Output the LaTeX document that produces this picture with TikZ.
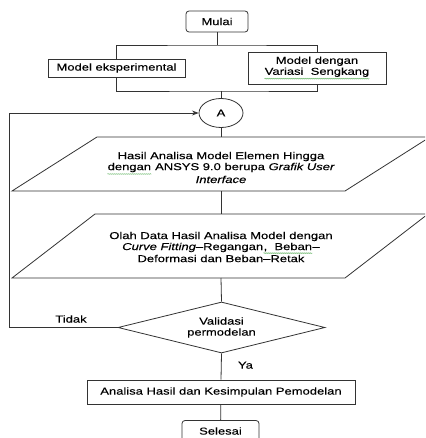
\documentclass[tikz,border=0pt]{standalone}
\usepackage{fontspec}
\setmainfont[FakeStretch=1.3,FakeBold=0.3]{Liberation Sans}
\usetikzlibrary{arrows.meta,shapes.geometric,decorations.pathmorphing}
\definecolor{linemain}{HTML}{333333}
\definecolor{greensq}{HTML}{6DB86D}
\tikzset{every node/.append style={font=\fontsize{10}{11}\selectfont,text=black}}
\tikzset{
  termnode/.style={draw=linemain,rounded corners=3pt,minimum width=#1,minimum height=21pt,inner sep=0pt},
  procnode/.style 2 args={draw=linemain,minimum width=#1,minimum height=#2,inner sep=0pt,align=center},
  decnode/.style={draw=linemain,diamond,aspect=4,minimum width=207pt,minimum height=51pt,inner sep=0pt,align=center},
  connnode/.style={draw=linemain,ellipse,minimum width=44pt,minimum height=29pt,inner sep=0pt},
  flow/.style={draw=linemain,line width=.8pt}
}
\newcommand{\squig}[1]{\tikz[baseline=(w.base)]{\node[inner sep=0pt,draw=none,shape=rectangle,minimum width=0pt,minimum height=0pt] (w) {#1};
  \draw[greensq,line width=.5pt,decorate,decoration={snake,amplitude=.5pt,segment length=2pt}] ([yshift=-1.6pt]w.south west)--([yshift=-1.6pt]w.south east);}}

\begin{document}
\begin{tikzpicture}[>=Stealth,x=1pt,y=-1pt,line width=.8pt]
\useasboundingbox (0,0) rectangle (425,438);
\clip (0,0) rectangle (425,438);
% start and the two models
\node[termnode=62pt] (mulai) at (217,21.5) {Mulai};
\node[procnode={137pt}{18pt}] (eksp) at (116.5,68) {Model eksperimental};
\node[procnode={138pt}{32pt}] (variasi) at (317,68) {Model dengan\\\squig{Variasi\ \ Sengkang}};
\coordinate (split) at (217,45); \coordinate (join) at (221,91);
\draw[flow] (mulai) -- (split);
\draw[flow] (eksp.north) |- (split) -| (variasi.north);
\draw[flow] (eksp.south) |- (join) -| (variasi.south);
\node[connnode] (a) at (221,113) {A};
\draw[flow] (join) -- (a);
% input/output blocks
\coordinate (p1n) at (221,137); \coordinate (p1s) at (221,191);
\coordinate (p2n) at (221,214); \coordinate (p2s) at (221,278);
\draw[flow] (97,137)--(430,137)--(345,191)--(12,191)--cycle;
\draw[flow] (95,214)--(428,214)--(345,278)--(12,278)--cycle;
\node[align=center] (hasil) at (221,167.5) {Hasil Analisa Model Elemen Hingga\\\squig{dengan} ANSYS 9.0 berupa \textit{Grafik User}\\\textit{Interface}};
\node[align=center] (olah) at (221,247) {Olah Data Hasil Analisa Model dengan\\\textit{Curve Fitting}--Regangan\squig{,\ \ Beban}--\\Deformasi dan Beban--Retak};
\draw[flow] (a) -- (p1n);
\draw[flow] (p1s) -- (p2n);
% decision
\node[decnode] (valid) at (221.5,327.5) {Validasi\\permodelan};
\draw[flow] (p2s) -- (valid.north);
\coordinate (back) at (9,327.5);
\draw[flow,->] (valid.west) -- (back) |- (a.west);
\node (tidak) at (71,319) {Tidak};
\node[procnode={268pt}{24pt}] (analisa) at (221,392) {Analisa Hasil dan Kesimpulan Pemodelan};
\draw[flow] (valid.south) -- (analisa.north) node[pos=.45,right=13pt] (ya) {Ya};
\node[termnode=77pt] (selesai) at (220.5,431) {Selesai};
\draw[flow] (analisa) -- (selesai);
\end{tikzpicture}
\end{document}
